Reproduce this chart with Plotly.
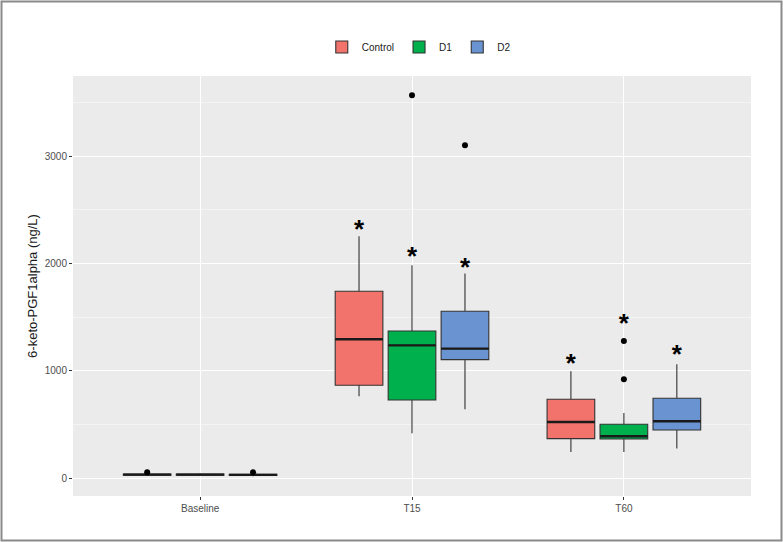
import plotly.graph_objects as go

# ---- data ----
timepoints = ["Baseline", "T15", "T60"]
groups = ["Control", "D1", "D2"]
colors = ["#F2736B", "#00B04C", "#6A93D2"]

ctrl_low    = [22, 763, 245]
ctrl_q1     = [29, 866, 369]
ctrl_median = [34, 1294, 524]
ctrl_q3     = [40, 1741, 736]
ctrl_high   = [46, 2253, 996]
ctrl_out    = [[55], [], []]

d1_low    = [22, 419, 245]
d1_q1     = [29, 729, 366]
d1_median = [34, 1238, 391]
d1_q3     = [40, 1372, 503]
d1_high   = [46, 1983, 608]
d1_out    = [[], [3566], [922, 1279]]

d2_low    = [20, 642, 277]
d2_q1     = [27, 1105, 450]
d2_median = [32, 1207, 531]
d2_q3     = [38, 1555, 745]
d2_high   = [44, 1908, 1061]
d2_out    = [[55], [3100], []]

ctrl_star = [None, 2302, 1053]
d1_star   = [None, 2050, 1426]
d2_star   = [None, 1943, 1130]

stats = {
    "Control": (ctrl_low, ctrl_q1, ctrl_median, ctrl_q3, ctrl_high, ctrl_out, ctrl_star),
    "D1": (d1_low, d1_q1, d1_median, d1_q3, d1_high, d1_out, d1_star),
    "D2": (d2_low, d2_q1, d2_median, d2_q3, d2_high, d2_out, d2_star),
}

# ---- layout helpers ----
dodge = 0.25
box_w = 0.225
base = [i + 1 for i in range(len(timepoints))]

fig = go.Figure()
for gi, g in enumerate(groups):
    low, q1, med, q3, high, outs, stars = stats[g]
    off = (gi - 1) * dodge
    xs = [b + off for b in base]
    fig.add_trace(go.Box(
        x=xs, q1=q1, median=med, q3=q3, lowerfence=low, upperfence=high,
        name=g, fillcolor=colors[gi], width=box_w, whiskerwidth=0,
        line=dict(color="#333333", width=1.1), boxpoints=False,
        hoverinfo="skip", showlegend=True,
    ))
    # thick median line
    fig.add_trace(go.Box(
        x=xs, q1=med, median=med, q3=med, lowerfence=med, upperfence=med,
        name=g, fillcolor="rgba(0,0,0,0)", width=box_w, whiskerwidth=0,
        line=dict(color="#1a1a1a", width=2.4), boxpoints=False,
        hoverinfo="skip", showlegend=False,
    ))
    # outliers
    ox, oy = [], []
    for b, vals in zip(base, outs):
        for v in vals:
            ox.append(b + off)
            oy.append(v)
    fig.add_trace(go.Scatter(
        x=ox, y=oy, mode="markers", marker=dict(color="black", size=6),
        showlegend=False, hoverinfo="skip",
    ))
    # significance stars
    sx, sy = [], []
    for b, s in zip(base, stars):
        if s is not None:
            sx.append(b + off)
            sy.append(s)
    fig.add_trace(go.Scatter(
        x=sx, y=sy, mode="text", text=["<b>*</b>"] * len(sx),
        textposition="middle center",
        textfont=dict(family="Liberation Sans, Arial", size=26, color="black"),
        showlegend=False, hoverinfo="skip",
    ))

# frame around the image
L, T, W, H = 73, 76, 678, 420
def px_x(p):
    return (p - L) / W
def px_y(p):
    return (T + H - p) / H

fig.add_shape(type="rect", xref="paper", yref="paper",
              x0=px_x(1.5), x1=px_x(781.5), y0=px_y(540.5), y1=px_y(1.5),
              line=dict(color="#8a8a8a", width=2), fillcolor="rgba(0,0,0,0)",
              layer="below")

fig.update_layout(
    width=783, height=542,
    margin=dict(l=L, r=783 - L - W, t=T, b=542 - T - H),
    paper_bgcolor="white", plot_bgcolor="#EBEBEB",
    boxmode="overlay",
    font=dict(family="Liberation Sans, Arial, sans-serif", color="#4D4D4D", size=10),
    legend=dict(orientation="h", x=0.51, xanchor="center", y=px_y(47), yanchor="middle",
                font=dict(size=10, color="#1a1a1a"), bgcolor="rgba(0,0,0,0)",
                itemwidth=30, tracegroupgap=0),
    xaxis=dict(range=[0.4, 3.6], tickvals=base, ticktext=timepoints,
               showgrid=True, gridcolor="white", gridwidth=1.2, zeroline=False,
               ticks="outside", ticklen=3, tickcolor="#333333", tickwidth=1,
               tickfont=dict(size=10, color="#4D4D4D"), showline=False),
    yaxis=dict(range=[-165, 3746], tickvals=[0, 1000, 2000, 3000],
               showgrid=True, gridcolor="white", gridwidth=1.2, zeroline=False,
               ticks="outside", ticklen=3, tickcolor="#333333", tickwidth=1,
               tickfont=dict(size=10, color="#4D4D4D"),
               minor=dict(tickvals=[500, 1500, 2500, 3500], showgrid=True,
                          gridcolor="#F4F4F4", gridwidth=0.7, ticks=""),
               title=dict(text="6-keto-PGF1alpha (ng/L)", standoff=4,
                          font=dict(size=13, color="#1a1a1a"))),
)

fig.write_html("out.html", config={"displayModeBar": False},
               post_script="document.body.style.margin='0';document.body.style.overflow='hidden';")
